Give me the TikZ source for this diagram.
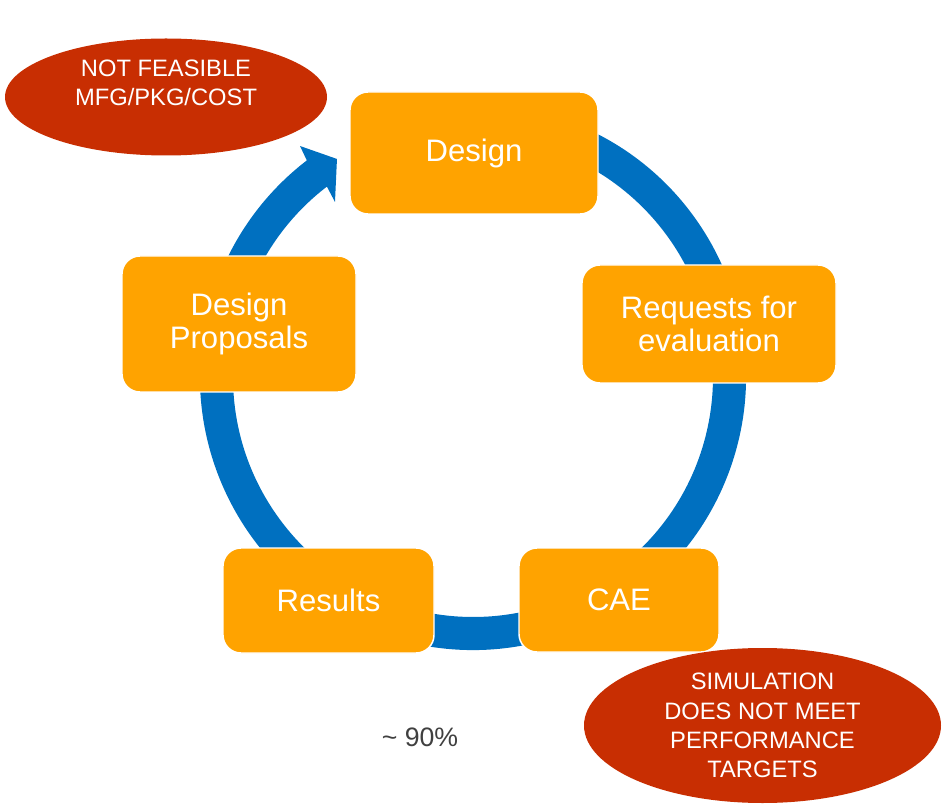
\documentclass[tikz,border=0pt]{standalone}
\usepackage{fontspec}
\setmainfont{Liberation Sans}
\usetikzlibrary{shapes.geometric}
\definecolor{ringblue}{RGB}{0,112,192}
\definecolor{boxorange}{RGB}{255,163,0}
\definecolor{alertred}{RGB}{200,46,2}
\definecolor{notegray}{RGB}{64,64,64}

\begin{document}
\begin{tikzpicture}[x=0.75pt,y=0.75pt,yscale=-1,xscale=1,
    stepbox/.style={rounded corners=13.5pt, fill=boxorange, draw=white, line width=1.1pt, text=white, align=center, inner sep=0pt, font=\fontsize{23.3}{25}\selectfont},
    alertell/.style={ellipse, fill=alertred, inner sep=0pt},
    alerttext/.style={text=white, align=center, font=\fontsize{17.8}{22}\selectfont}
    ]
        \useasboundingbox (0,0) rectangle (942,805);
        %Shape: Circular Arrow [id:ring]
        \coordinate (ring) at (473,377);
        \fill [ringblue, shift={(ring)}] (-70:273) arc [start angle=-70, end angle=232.5, radius=273] -- (233.17:288.6) -- (238.04:257) -- (231.74:222.9) -- (232.5:240) arc [start angle=232.5, end angle=-70, radius=240] -- cycle ;

        %Rounded Rect [id:design]
        \node [stepbox, minimum width=186pt, minimum height=91.5pt] (design) at (474,153) {Design};
        %Rounded Rect [id:requests]
        \node [stepbox, minimum width=190.5pt, minimum height=88.5pt] (requests) at (709,324) {Requests for\\evaluation};
        %Rounded Rect [id:cae]
        \node [stepbox, minimum width=150pt, minimum height=78pt] (cae) at (619,600) {CAE};
        %Rounded Rect [id:results]
        \node [stepbox, minimum width=158.25pt, minimum height=78.75pt] (results) at (328.5,600.5) {Results};
        %Rounded Rect [id:proposals]
        \node [stepbox, minimum width=175.5pt, minimum height=102pt] (proposals) at (239,324) {Design\\Proposals};

        %Shape: Ellipse [id:notfeasible]
        \node [alertell, minimum width=241.5pt, minimum height=87.75pt] (notfeasible) at (166,97) {};
        \node [alerttext] (notfeasibletext) at ([yshift=-10.5pt]notfeasible.center) {NOT FEASIBLE\\MFG/PKG/COST};
        %Shape: Ellipse [id:simfail]
        \node [alertell, alerttext, minimum width=267.75pt, minimum height=116.25pt] (simfail) at (762.5,725.5) {SIMULATION\\DOES NOT MEET\\PERFORMANCE\\TARGETS};

        % Text Node
        \node [text=notegray, font=\fontsize{20}{24}\selectfont] (share) at (420,737) {\textasciitilde{} 90\%};
\end{tikzpicture}
\end{document}
